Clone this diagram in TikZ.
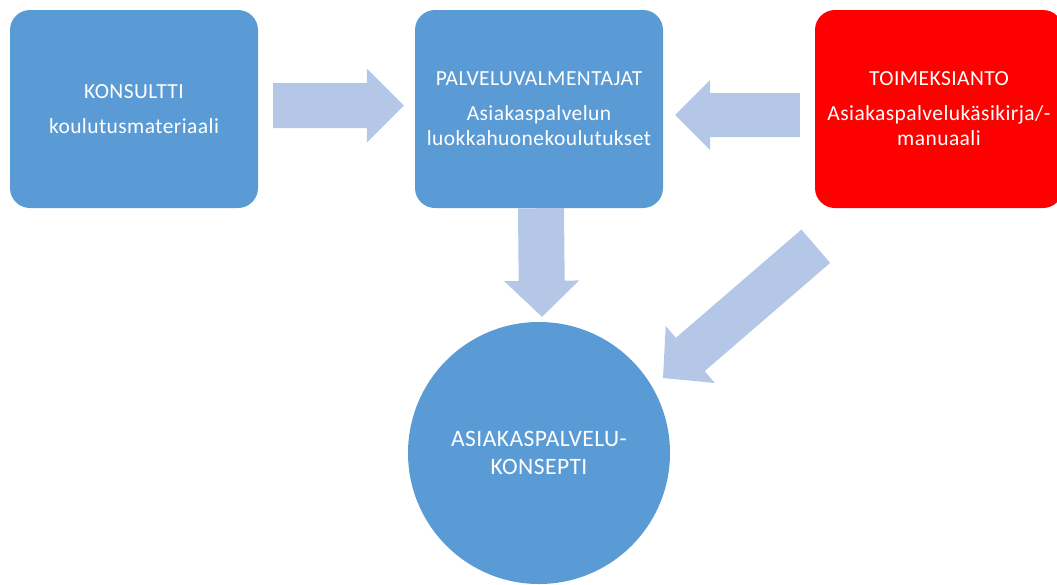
\documentclass[tikz,border=0pt]{standalone}
\usepackage{fontspec}
\setmainfont{Carlito}[LetterSpace=2]
\usetikzlibrary{calc}
\definecolor{boxblue}{HTML}{5B9BD5}
\definecolor{arrowblue}{HTML}{B4C7E7}
\definecolor{boxred}{HTML}{FF0000}
% #1 start, #2 tip, #3 shaft half width, #4 head half width, #5 head length (all in pt)
\newcommand\blockarr[5]{%
  \coordinate (blkh) at ($(#2)!#5pt!(#1)$);
  \fill[arrowfill] ($(#1)!#3pt!90:(#2)$) -- ($(blkh)!#3pt!90:(#2)$) -- ($(blkh)!#4pt!90:(#2)$)
    -- (#2) -- ($(blkh)!#4pt!-90:(#2)$) -- ($(blkh)!#3pt!-90:(#2)$) -- ($(#1)!#3pt!-90:(#2)$) -- cycle;
}
\begin{document}
\begin{tikzpicture}[x=1pt,y=-1pt,
  box/.style={rectangle, rounded corners=20, minimum width=248, minimum height=198,
    inner sep=0, text=white, align=center, font=\fontsize{21.5}{25}\selectfont},
  arrowfill/.style={fill=arrowblue},
  hub/.style={circle, fill=boxblue, minimum size=262, inner sep=0, text=white,
    align=center, font=\fontsize{23.5}{28}\selectfont}]
\useasboundingbox (0,0) rectangle (1057,584);
\clip (0,0) rectangle (1057,584);
\node[box, fill=boxblue] (kons) at (134,109) {KONSULTTI\\[10pt]koulutusmateriaali};
\node[box, fill=boxblue] (palv) at (539,109) {PALVELUVALMENTAJAT\\[10pt]Asiakaspalvelun\\luokkahuonekoulutukset};
\node[box, fill=boxred] (toim) at (939,109) {TOIMEKSIANTO\\[10pt]Asiakaspalvelukäsikirja/-\\manuaali};
\node[hub] (konsepti) at (539,453) {ASIAKASPALVELU-\\KONSEPTI};
\coordinate (a1s) at ($(kons.east)+(15,-3.5)$);
\coordinate (a1t) at ($(palv.west)+(-11,-3.5)$);
\blockarr{a1s}{a1t}{22.5}{37}{37}
\coordinate (a2s) at ($(toim.west)+(-15,6)$);
\coordinate (a2t) at ($(palv.east)+(12,6)$);
\blockarr{a2s}{a2t}{22}{35}{35}
\coordinate (a3s) at ($(palv.south)+(2,0)$);
\coordinate (a3t) at ($(konsepti.north)+(3,-5)$);
\blockarr{a3s}{a3t}{23}{37.5}{36}
\coordinate (a4s) at ($(toim.south west)+(1,38)$);
\coordinate (a4t) at ($(konsepti.center)+(124,-75)$);
\blockarr{a4s}{a4t}{22}{37.6}{36}
\end{tikzpicture}
\end{document}
